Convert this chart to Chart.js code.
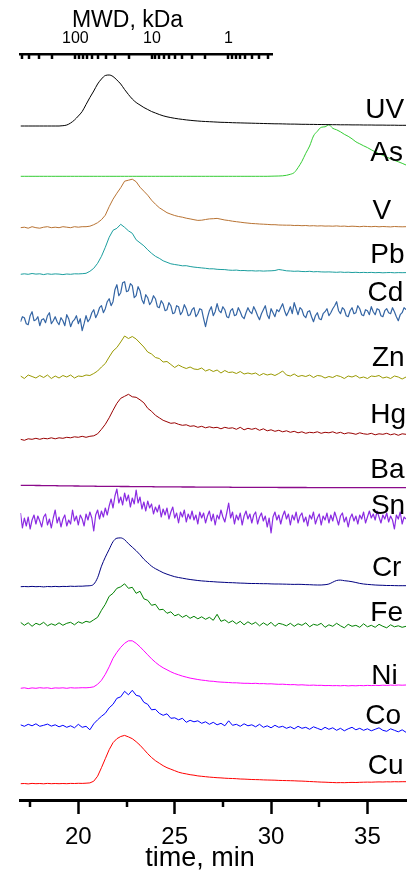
<!DOCTYPE html>
<html>
<head>
<meta charset="utf-8">
<title>SEC-ICP-MS elution profiles</title>
<script src="https://cdn.jsdelivr.net/npm/chart.js@4.4.0/dist/chart.umd.min.js"></script>
<style>
  html, body { margin: 0; padding: 0; background: #fff; }
  #wrap { position: relative; width: 411px; height: 870px; }
  #main, #mwd { position: absolute; left: 0; top: 0; }
</style>
</head>
<body>
<div id="wrap">
  <canvas id="main" width="411" height="870"></canvas>
  <canvas id="mwd" width="411" height="120"></canvas>
</div>
<script>
// ---- sampling grids (elution time, min) ----
const tCoarse = Array.from({ length: 101 }, (_, i) => +(17 + 0.2 * i).toFixed(1));
const tFine = Array.from({ length: 201 }, (_, i) => +(17 + 0.1 * i).toFixed(1));

// ---- bottom axis ticks ----
const timeMajorTicks = [20, 25, 30, 35];
const timeMinorTicks = [17.5, 22.5, 27.5, 32.5];
const timeTitle = 'time, min';

// ---- molecular weight axis (kDa) ----
const mwdTickValues = [500, 400, 300, 200, 100, 90, 80, 70, 60, 50, 40, 30, 20,
  10, 9, 8, 7, 6, 5, 4, 3, 2, 1, 0.9, 0.8, 0.7, 0.6, 0.5, 0.4, 0.3];
const mwdLabels = [100, 10, 1];
const mwdTitle = 'MWD, kDa';

// ---- traces (signal above each trace's baseline, a.u.) ----
const elements = ['UV', 'As', 'V', 'Pb', 'Cd', 'Zn', 'Hg', 'Ba', 'Sn', 'Cr', 'Fe', 'Ni', 'Co', 'Cu'];
const baselines = [67.4, 62.37, 57.23, 52.57, 47.83, 42.3, 36.07, 31.47, 27.9, 21.33, 17.57, 11.17, 7.47, 1.63];

const uv = [
  0,0,0,0,0,0,0,0,0,0,
  0,0.03,0.1,0.3,0.6,1.0,1.45,2.15,2.85,3.5,
  4.2,4.7,5.05,5.1,4.95,4.6,4.2,3.65,3.15,2.7,
  2.35,2.1,1.85,1.65,1.45,1.3,1.15,1.02,0.92,0.84,
  0.77,0.71,0.66,0.61,0.57,0.53,0.5,0.47,0.45,0.43,
  0.41,0.39,0.37,0.36,0.35,0.33,0.32,0.31,0.3,0.29,
  0.28,0.27,0.26,0.25,0.24,0.23,0.22,0.22,0.21,0.2,
  0.19,0.19,0.18,0.17,0.17,0.16,0.16,0.15,0.15,0.14,
  0.14,0.13,0.13,0.12,0.12,0.12,0.11,0.11,0.11,0.1,
  0.1,0.1,0.09,0.09,0.09,0.08,0.08,0.08,0.07,0.07,
  0.07];

const as = [
  0,0,0,0,0,0,0,0,0,0,
  0,0,0,0,0,0,0,0,0,0,
  0,0,0,0,0,0,0,0,0,0,
  0,0,0,0,0,0,0,0,0,0,
  0,0,0,0,0,0,0,0,0,0,
  0,0,0,0,0,0,0,0,0,0,
  0,0,0,0,0,0.01,0.02,0.03,0.05,0.1,
  0.2,0.37,0.87,1.5,2.3,3.03,4.03,4.5,4.9,4.95,
  5.15,4.8,4.65,4.45,4.2,4.0,3.75,3.45,3.25,3.05,
  2.87,2.65,2.45,2.25,2.1,1.92,1.75,1.6,1.45,1.3,
  1.13];

const v = [
  0.0,0.05,-0.05,0.1,0.0,-0.05,0.05,0.1,0.0,0.05,
  0.0,0.1,0.05,0.0,0.1,0.05,0.1,0.1,0.15,0.3,
  0.5,0.8,1.25,2.1,2.85,3.45,4.0,4.65,4.75,4.85,
  4.6,4.05,3.65,3.25,2.75,2.35,2.0,1.75,1.5,1.35,
  1.22,1.12,1.05,0.95,0.88,0.8,0.73,0.75,0.82,0.88,
  0.9,0.93,0.85,0.77,0.72,0.65,0.6,0.55,0.5,0.46,
  0.42,0.4,0.37,0.35,0.33,0.3,0.3,0.27,0.26,0.25,
  0.25,0.22,0.23,0.2,0.22,0.18,0.2,0.17,0.19,0.16,
  0.17,0.15,0.18,0.14,0.16,0.12,0.15,0.13,0.1,0.14,
  0.12,0.1,0.13,0.09,0.12,0.1,0.08,0.12,0.1,0.09,
  0.1];

const pb = [
  0.0,0.05,0.0,0.08,0.02,0.05,-0.03,0.05,0.0,0.04,
  0.02,-0.03,0.03,0.0,0.05,0.04,0.06,0.1,0.3,0.6,
  1.1,1.8,2.7,3.7,4.4,4.6,5.0,4.7,4.35,4.1,
  3.45,3.15,2.85,2.45,2.1,1.8,1.6,1.35,1.2,1.05,
  0.98,0.92,0.85,0.86,0.78,0.72,0.68,0.64,0.6,0.55,
  0.55,0.5,0.48,0.47,0.42,0.4,0.42,0.37,0.38,0.35,
  0.36,0.33,0.35,0.32,0.34,0.35,0.38,0.48,0.42,0.35,
  0.33,0.3,0.32,0.28,0.27,0.3,0.25,0.27,0.24,0.23,
  0.24,0.22,0.2,0.23,0.19,0.21,0.18,0.2,0.17,0.19,
  0.17,0.19,0.16,0.18,0.15,0.17,0.18,0.15,0.17,0.16,
  0.17];

const cd = [
  0.0,0.5,0.4,-0.2,-0.3,0.6,1.0,0.1,0.2,0.5,
  -0.4,0.2,0.3,-0.1,0.6,0.9,-0.2,0.1,0.5,0.0,
  -0.3,0.4,0.1,-0.4,0.7,0.3,-0.5,0.0,0.2,0.6,
  -0.2,0.3,-0.9,-0.2,0.6,0.0,0.3,0.9,1.2,0.4,
  0.8,1.4,1.6,0.9,1.3,2.0,2.3,1.6,2.0,3.2,
  3.7,2.6,2.9,3.9,4.0,3.0,3.1,3.8,3.6,2.4,
  2.6,3.5,3.1,2.2,1.8,2.7,2.4,1.7,2.0,2.6,
  2.3,1.5,1.4,2.1,1.8,1.1,1.2,1.9,1.6,0.8,
  0.9,1.6,1.5,0.7,1.0,1.7,1.3,0.6,0.7,1.2,
  1.4,0.5,0.8,1.3,1.2,0.3,-0.5,0.4,1.1,1.5,
  0.6,1.0,1.8,1.1,0.9,1.5,1.2,0.5,0.4,1.1,
  1.3,0.6,0.7,1.4,1.0,0.5,0.3,0.9,1.4,1.0,
  0.8,1.5,1.1,0.6,0.2,0.8,1.2,1.6,0.7,0.3,
  1.3,0.9,0.5,1.2,1.0,1.4,1.8,1.1,0.6,1.0,
  1.5,0.8,1.9,1.3,0.7,1.4,1.2,0.6,0.4,1.0,
  1.1,0.5,0.0,0.6,0.9,0.3,0.2,0.8,1.0,1.3,
  0.6,0.9,1.3,1.6,2.0,1.1,0.8,1.4,1.2,0.6,
  0.5,1.1,1.4,0.8,0.9,1.6,1.3,0.7,0.6,1.2,
  1.1,0.7,1.5,1.0,0.7,1.3,1.2,0.6,0.5,1.1,
  1.3,0.9,0.8,1.4,1.0,0.5,0.1,0.7,0.9,1.4,
  1.2];

const zn = [
  0.1,-0.15,0.2,0.05,-0.1,0.15,-0.05,0.2,-0.15,0.1,
  -0.1,0.15,0.0,0.2,-0.1,0.1,0.05,0.2,0.15,0.35,
  0.6,1.0,1.35,2.0,2.6,2.95,3.5,4.1,3.85,4.05,
  3.8,3.4,3.0,2.5,2.3,1.95,1.85,1.5,1.55,1.25,
  0.95,1.2,1.0,0.85,1.0,0.8,0.75,0.9,0.6,0.75,
  0.55,0.7,0.4,0.65,0.45,0.5,0.35,0.55,0.3,0.4,
  0.3,0.4,0.15,0.35,0.2,0.3,0.15,0.35,0.6,0.2,
  0.1,0.3,0.05,0.15,0.05,0.2,-0.05,0.15,0.1,-0.1,
  0.05,-0.05,0.15,0.05,-0.15,0.1,0.0,0.15,-0.1,0.0,
  -0.15,0.1,0.05,0.15,-0.1,0.0,-0.15,0.1,0.0,-0.2,
  0.0];

const hg = [
  0.0,-0.1,0.05,0.0,0.1,0.0,0.1,0.05,0.15,0.05,
  0.15,0.1,0.2,0.15,0.25,0.2,0.3,0.2,0.3,0.35,
  0.55,1.0,1.5,2.15,2.9,3.6,4.1,4.3,4.5,4.25,
  4.2,3.95,3.65,3.1,2.8,2.4,2.15,1.9,1.75,1.6,
  1.65,1.5,1.4,1.45,1.3,1.35,1.2,1.3,1.15,1.25,
  1.15,1.2,1.05,1.2,1.1,1.15,1.0,1.2,0.95,1.1,
  1.0,1.1,0.9,1.05,0.85,0.95,0.8,0.9,0.75,0.85,
  0.7,0.8,0.65,0.75,0.6,0.7,0.65,0.75,0.6,0.7,
  0.65,0.75,0.6,0.7,0.55,0.65,0.6,0.5,0.65,0.55,
  0.5,0.6,0.45,0.55,0.5,0.6,0.45,0.55,0.4,0.55,
  0.5];

const ba = [
  0,0,-0.01,-0.01,-0.02,-0.02,-0.03,-0.03,-0.04,-0.04,
  -0.05,-0.05,-0.06,-0.06,-0.07,-0.07,-0.08,-0.08,-0.09,-0.09,
  -0.1,-0.1,-0.1,-0.11,-0.11,-0.11,-0.12,-0.12,-0.12,-0.13,
  -0.13,-0.13,-0.14,-0.14,-0.14,-0.15,-0.15,-0.15,-0.16,-0.16,
  -0.16,-0.16,-0.17,-0.17,-0.17,-0.17,-0.18,-0.18,-0.18,-0.18,
  -0.19,-0.19,-0.19,-0.19,-0.19,-0.2,-0.2,-0.2,-0.2,-0.2,
  -0.2,-0.21,-0.21,-0.21,-0.21,-0.21,-0.21,-0.22,-0.22,-0.22,
  -0.22,-0.22,-0.22,-0.22,-0.22,-0.23,-0.23,-0.23,-0.23,-0.23,
  -0.23,-0.23,-0.23,-0.23,-0.23,-0.24,-0.24,-0.24,-0.24,-0.24,
  -0.24,-0.24,-0.24,-0.24,-0.24,-0.24,-0.24,-0.24,-0.24,-0.24,
  -0.24];

const sn = [
  0.8,-0.7,0.3,-0.5,0.4,-0.8,0.1,0.6,-0.3,0.5,
  0.0,-0.6,0.4,0.7,-0.4,0.2,-0.7,0.3,1.1,-0.2,
  0.4,-0.6,0.2,0.6,-0.5,0.1,-0.3,1.1,0.0,0.5,
  -0.4,0.6,0.2,-0.5,0.7,0.1,0.9,0.3,-1.0,0.6,
  1.1,0.2,1.0,0.4,1.3,0.6,1.5,2.2,1.3,2.5,
  3.2,1.8,2.4,1.6,2.8,2.0,2.6,1.4,2.3,1.7,
  3.1,1.8,2.4,1.2,1.9,1.0,2.0,1.3,1.7,0.7,
  1.4,0.9,1.6,0.4,1.2,0.6,1.3,0.2,0.9,1.4,
  0.3,0.8,-0.2,0.9,0.4,1.1,-0.1,0.7,0.2,1.0,
  0.1,0.6,-0.3,0.9,0.3,0.8,-0.2,0.5,1.0,0.0,
  0.7,-0.4,0.6,0.2,1.1,0.4,-0.1,0.8,1.8,0.3,
  0.9,-0.3,0.6,0.1,0.8,-0.4,0.5,1.0,0.2,0.7,
  -0.2,0.6,0.9,-0.3,0.4,0.8,0.0,0.5,-0.6,0.3,
  -1.2,0.4,0.9,0.1,0.6,-0.3,0.5,1.0,0.2,0.7,
  -0.4,0.6,0.1,0.9,-0.2,0.5,0.8,-0.1,0.4,-0.5,
  0.6,0.2,0.9,-0.3,0.3,0.7,-0.4,0.5,0.1,0.8,
  -0.2,0.6,0.0,0.9,0.3,-0.4,0.5,0.8,-0.1,0.4,
  -0.6,0.3,0.7,0.0,0.5,-0.3,0.6,0.2,0.9,-0.2,
  0.4,1.0,0.3,0.7,0.1,1.0,0.4,-0.2,0.6,0.2,
  0.8,-0.1,0.5,0.1,-0.8,0.6,0.2,0.9,-0.3,0.4,
  0.2];

const cr = [
  0.0,0.02,0.0,0.03,0.0,0.02,-0.02,0.02,0.0,0.03,
  0.0,0.03,0.02,0.05,0.03,0.05,0.05,0.08,0.1,0.25,
  0.9,2.05,2.95,3.73,4.5,4.85,4.88,4.7,4.3,3.95,
  3.6,3.2,2.75,2.4,2.05,1.8,1.6,1.4,1.25,1.12,
  1.0,0.92,0.85,0.78,0.72,0.67,0.62,0.58,0.55,0.52,
  0.5,0.47,0.45,0.43,0.41,0.4,0.38,0.36,0.35,0.33,
  0.32,0.32,0.31,0.3,0.3,0.28,0.27,0.27,0.26,0.25,
  0.24,0.23,0.24,0.23,0.21,0.2,0.18,0.17,0.17,0.2,
  0.27,0.45,0.62,0.66,0.6,0.56,0.5,0.42,0.33,0.27,
  0.23,0.2,0.17,0.15,0.14,0.12,0.12,0.11,0.1,0.1,
  0.1];

const fe = [
  0.2,-0.1,0.15,-0.2,0.1,-0.05,0.2,-0.15,0.05,-0.1,
  0.15,-0.1,0.1,0.2,-0.05,0.25,0.1,0.3,0.2,0.45,
  0.7,1.4,2.0,2.8,3.1,3.6,3.75,4.05,3.6,3.7,
  3.1,3.3,2.55,2.4,1.9,2.0,1.45,1.5,1.1,1.25,
  0.85,1.0,0.7,0.9,0.6,0.8,0.55,0.75,0.5,0.7,
  0.4,1.0,0.3,0.45,0.15,0.35,0.05,0.3,-0.05,0.25,
  0.0,0.2,-0.15,0.15,-0.1,0.2,-0.2,0.1,0.0,-0.15,
  0.1,-0.2,0.05,-0.1,0.15,-0.25,0.0,-0.1,0.1,-0.3,
  -0.05,-0.2,0.1,-0.15,-0.35,0.0,-0.2,-0.1,-0.3,0.05,
  -0.25,-0.1,-0.3,0.0,-0.2,-0.35,-0.05,-0.25,-0.15,-0.3,
  -0.2];

const ni = [
  0.0,0.05,-0.03,0.04,0.0,0.06,0.02,0.05,-0.02,0.04,
  0.02,0.05,0.0,0.06,0.03,0.04,0.06,0.05,0.08,0.15,
  0.4,0.8,1.4,2.15,3.0,3.6,4.1,4.5,4.75,4.75,
  4.5,4.15,3.75,3.35,2.95,2.6,2.3,2.05,1.85,1.65,
  1.48,1.35,1.22,1.12,1.02,0.95,0.88,0.82,0.78,0.72,
  0.7,0.65,0.62,0.6,0.58,0.55,0.55,0.52,0.5,0.5,
  0.48,0.5,0.46,0.47,0.44,0.45,0.42,0.4,0.41,0.38,
  0.36,0.37,0.33,0.35,0.32,0.3,0.32,0.29,0.3,0.27,
  0.28,0.26,0.27,0.25,0.28,0.24,0.27,0.25,0.28,0.26,
  0.29,0.27,0.3,0.28,0.31,0.29,0.32,0.3,0.33,0.31,
  0.33];

const co = [
  0.05,-0.1,0.1,-0.05,0.15,-0.1,0.0,0.12,-0.08,0.05,
  -0.15,0.0,-0.2,-0.05,-0.25,0.1,-0.2,-0.1,-0.45,0.15,
  0.55,0.9,1.2,1.75,2.1,2.7,2.85,3.4,3.05,3.5,
  3.0,2.9,2.3,2.1,1.55,1.6,1.2,1.0,1.15,0.7,
  0.75,0.55,0.7,0.3,0.5,0.35,0.45,0.2,0.35,0.1,
  0.3,0.05,0.2,-0.05,0.45,0.0,0.1,-0.1,0.15,-0.05,
  0.05,-0.15,0.1,-0.2,-0.05,-0.25,0.0,-0.2,-0.1,-0.3,
  -0.15,-0.35,-0.1,-0.3,-0.2,-0.4,-0.15,-0.3,-0.45,-0.2,
  -0.4,-0.25,-0.5,-0.3,-0.55,-0.35,-0.2,-0.45,-0.3,-0.5,
  -0.35,-0.55,-0.4,-0.25,-0.5,-0.6,-0.35,-0.5,-0.65,-0.45,
  -0.7];

const cu = [
  0.0,0.02,-0.02,0.03,0.0,0.02,-0.01,0.03,0.0,0.02,
  0.0,0.02,0.0,0.03,0.02,0.04,0.03,0.05,0.08,0.25,
  0.75,1.6,2.5,3.4,4.1,4.5,4.72,4.83,4.68,4.5,
  4.2,3.85,3.43,3.0,2.62,2.3,2.05,1.8,1.6,1.45,
  1.3,1.15,1.05,0.98,0.9,0.85,0.78,0.74,0.7,0.66,
  0.63,0.6,0.58,0.55,0.53,0.52,0.5,0.47,0.46,0.44,
  0.42,0.41,0.4,0.38,0.37,0.36,0.35,0.33,0.32,0.31,
  0.3,0.29,0.27,0.26,0.24,0.22,0.2,0.18,0.16,0.15,
  0.13,0.12,0.1,0.11,0.1,0.12,0.13,0.12,0.14,0.15,
  0.16,0.15,0.17,0.18,0.17,0.19,0.18,0.2,0.19,0.2,
  0.2];

const series = [uv, as, v, pb, cd, zn, hg, ba, sn, cr, fe, ni, co, cu];

// ---- styling ----
const colors = ['#000000', '#33cc33', '#b87333', '#1b9e9e', '#3465a4', '#999900', '#990000',
  '#8b0a8b', '#8a2be2', '#000080', '#008000', '#ff00ff', '#0000ff', '#ff0000'];
const widths = [1, 1, 1, 1, 1.2, 1, 1, 1.3, 1.2, 1, 1, 1, 1, 1];
const smooth = [true, true, false, false, false, false, false, true, false, true, false, false, false, false];
const FONT = "'Liberation Sans', Arial, Helvetica, sans-serif";

// label anchors (time, axis units)
const labelX = [34.89, 35.15, 35.26, 35.15, 35.0, 35.23, 35.15, 35.15, 35.18, 35.23, 35.15, 35.2, 34.89, 35.02];
const labelY = [68.23, 63.9, 58.15, 53.73, 49.9, 43.4, 37.73, 32.23, 28.57, 22.4, 17.9, 11.57, 7.57, 2.57];

Chart.defaults.font.family = FONT;
Chart.defaults.color = '#000';

function drawText(ctx, text, x, y, size, align) {
  ctx.save();
  ctx.font = size + 'px ' + FONT;
  ctx.fillStyle = '#000';
  ctx.textAlign = align;
  ctx.textBaseline = 'alphabetic';
  ctx.fillText(text, x, y);
  ctx.restore();
}

// short tick marks hanging from an axis line, at given values of its scale
function drawTickMarks(chart, scale, values, y0, len) {
  const ctx = chart.ctx;
  ctx.save();
  ctx.strokeStyle = '#000';
  ctx.lineWidth = 2.5;
  values.forEach(val => {
    const px = Math.round(scale.getPixelForValue(val));
    ctx.beginPath();
    ctx.moveTo(px, y0);
    ctx.lineTo(px, y0 + len);
    ctx.stroke();
  });
  ctx.restore();
}

const traceLabels = {
  id: 'traceLabels',
  afterDatasetsDraw(chart) {
    const { ctx, scales: { x, y } } = chart;
    elements.forEach((name, k) => {
      drawText(ctx, name, x.getPixelForValue(labelX[k]), y.getPixelForValue(labelY[k]), 28, 'left');
    });
  }
};

const timeAxisExtras = {
  id: 'timeAxisExtras',
  afterDraw(chart) {
    const { ctx, chartArea, scales: { x } } = chart;
    drawTickMarks(chart, x, timeMinorTicks, chartArea.bottom, 7);
    drawText(ctx, timeTitle, chartArea.left + 179.5, chart.height - 4.5, 27, 'center');
  }
};

const mwdAxisExtras = {
  id: 'mwdAxisExtras',
  afterDraw(chart) {
    const { ctx, chartArea, scales: { x } } = chart;
    drawTickMarks(chart, x, x.ticks.map(t => t.value), chartArea.top, 5);
    drawText(ctx, mwdTitle, chartArea.left + 107, 26.7, 23, 'center');
  }
};

new Chart(document.getElementById('main'), {
  type: 'line',
  data: {
    datasets: elements.map((name, k) => {
      const vals = series[k];
      const times = vals.length === tFine.length ? tFine : tCoarse;
      return {
        label: name,
        data: vals.map((val, i) => ({ x: times[i], y: baselines[k] + val })),
        borderColor: colors[k],
        borderWidth: widths[k],
        borderJoinStyle: 'round',
        pointRadius: 0,
        fill: false,
        tension: smooth[k] ? 0.3 : 0,
        cubicInterpolationMode: smooth[k] ? 'monotone' : 'default'
      };
    })
  },
  options: {
    responsive: false,
    animation: false,
    devicePixelRatio: 1,
    layout: { padding: { top: 54, left: 20.5, right: 5, bottom: 10 } },
    plugins: { legend: { display: false }, tooltip: { enabled: false } },
    scales: {
      x: {
        type: 'linear',
        min: 17,
        max: 37,
        afterBuildTicks: (scale) => { scale.ticks = timeMajorTicks.map(val => ({ value: val })); },
        border: { display: true, color: '#000', width: 3 },
        grid: { drawOnChartArea: false, drawTicks: true, tickLength: 14, tickWidth: 2.5, tickColor: '#000' },
        ticks: { autoSkip: false, maxRotation: 0, padding: 8.6,
                 color: '#000', font: { size: 24, lineHeight: 1.2 } }
      },
      y: { type: 'linear', display: false, min: 0, max: 74.6 }
    }
  },
  plugins: [traceLabels, timeAxisExtras]
});

// molecular weight scale along the top
new Chart(document.getElementById('mwd'), {
  type: 'line',
  data: { datasets: [] },
  options: {
    responsive: false,
    animation: false,
    devicePixelRatio: 1,
    layout: { padding: { top: 24, left: 20.5, right: 139, bottom: 2 } },
    plugins: { legend: { display: false }, tooltip: { enabled: false } },
    scales: {
      x: {
        type: 'logarithmic',
        position: 'top',
        reverse: true,
        min: 0.27,
        max: 521,
        afterBuildTicks: (scale) => { scale.ticks = mwdTickValues.map(val => ({ value: val })); },
        border: { display: true, color: '#000', width: 2.5 },
        grid: { display: false, drawTicks: false },
        ticks: { autoSkip: false, maxRotation: 0, padding: 5.4, color: '#000',
                 font: { size: 16, lineHeight: 1.2 },
                 callback: (val) => mwdLabels.includes(val) ? String(val) : '' }
      },
      y: { type: 'linear', display: false, min: 0, max: 1 }
    }
  },
  plugins: [mwdAxisExtras]
});
</script>
</body>
</html>
